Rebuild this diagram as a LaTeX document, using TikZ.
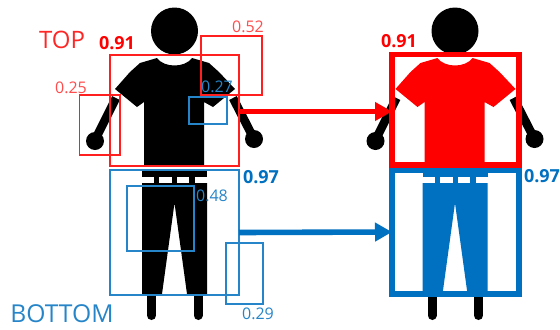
\documentclass[tikz,border=0pt]{standalone}
\usepackage{fontspec}
\setmainfont{Open Sans}
\usetikzlibrary{arrows.meta}
\definecolor{topred}{HTML}{FF0000}
\definecolor{botblue}{HTML}{0070C0}
\newcommand{\person}[3]{%
  \begin{scope}[xshift=#1*.75pt]
  \fill (174.5,31) circle (23.5);
  \draw[line width=6.5pt] (116,98) -- (95,140);
  \draw[line width=6.5pt] (233,98) -- (254,139);
  \fill (95,141) circle (9);
  \fill (254,139) circle (9);
  \draw[line width=6.75pt,line cap=round] (151.5,290) -- (151.5,315.5);
  \draw[line width=6.75pt,line cap=round] (198,290) -- (198,315.5);
  \fill[#2] (157,58) .. controls (164,68) and (185,68) .. (192,58)
    -- (209,63) -- (219,72) -- (235,89) -- (213,107) -- (204,102) -- (204,166) -- (144,166)
    -- (144,102) -- (137,107) -- (115,89) -- (130,72) -- (140,63) -- cycle;
  \fill[#3] (142,171) rectangle (207,176.5);
  \fill[#3] (154,176) rectangle (159,184);
  \fill[#3] (172,176) rectangle (177,184);
  \fill[#3] (189,176) rectangle (195,184);
  \fill[#3] (142,183) -- (207,183) -- (207,294) -- (187,294) -- (174.5,203)
    -- (162,294) -- (142,294) -- cycle;
  \end{scope}}
\begin{document}
\begin{tikzpicture}[x=.75pt, y=-.75pt,
  every node/.style={inner sep=0pt, outer sep=0pt},
  rbox/.style={draw=topred!88!white, line width=1.2pt, rectangle},
  bbox/.style={draw=botblue!85!white, line width=1.2pt, rectangle},
  rhead/.style={text=topred!85!white, font=\fontsize{18}{18}\selectfont},
  bhead/.style={text=botblue!85!white, font=\fontsize{18.5}{19}\selectfont},
  rval/.style={text=topred!70!white, font=\fontsize{12}{12}\selectfont},
  bval/.style={text=botblue!85!white, font=\fontsize{12}{12}\selectfont},
  rscore/.style={text=topred, font=\bfseries\fontsize{13.5}{14}\selectfont},
  bscore/.style={text=botblue, font=\bfseries\fontsize{13.5}{14}\selectfont},
  arr/.style={line width=4.2pt, -{Triangle[length=12.75pt,width=13.5pt]}}]
\path[use as bounding box, clip] (0,0) rectangle (560,329);
\fill[white] (0,0) rectangle (560,329);
\person{0}{black}{black}
\person{280.5}{topred}{botblue}
\node[rbox, minimum width=96.75pt, minimum height=83.25pt] (topbox) at (174.5,110.5) {};
\node[bbox, minimum width=96.75pt, minimum height=93.75pt] (botbox) at (174.5,232.5) {};
\node[rbox, minimum width=30.4pt, minimum height=45pt] (lefthand) at (99.75,125) {};
\node[rbox, minimum width=45.75pt, minimum height=44.25pt] (shoulder) at (231.5,65.5) {};
\node[bbox, minimum width=28.5pt, minimum height=20.25pt] (waist) at (208,110.5) {};
\node[bbox, minimum width=50.25pt, minimum height=48.75pt] (thigh) at (160.5,218.5) {};
\node[bbox, minimum width=27.75pt, minimum height=45.75pt] (shin) at (244.5,273.5) {};
\node[draw=botblue, line width=4.2pt, minimum width=95.25pt, minimum height=93pt] (botres) at (455.5,232) {};
\node[draw=topred, line width=4.2pt, minimum width=95.25pt, minimum height=82.9pt] (topres) at (455.5,109.75) {};
\draw[arr, topred] (topbox.east |- 0,111.5) -- (topres.west |- 0,111.5);
\draw[arr, botblue] (botbox.east) -- (botres.west);
\node[rhead] (toplabel) at (62,40) {TOP};
\node[bhead] (botlabel) at (62,314) {BOTTOM};
\node[rscore] (topscore) at (117,43) {0.91};
\node[rval] (handval) at (71,88) {0.25};
\node[rval] (shoulderval) at (248,27) {0.52};
\node[bval] (waistval) at (217,87) {0.27};
\node[bscore] (botscore) at (261,177) {0.97};
\node[bval] (thighval) at (212,196) {0.48};
\node[bval] (shinval) at (258,314) {0.29};
\node[rscore] (topresscore) at (399,41) {0.91};
\node[bscore] (botresscore) at (542,176) {0.97};
\end{tikzpicture}
\end{document}
